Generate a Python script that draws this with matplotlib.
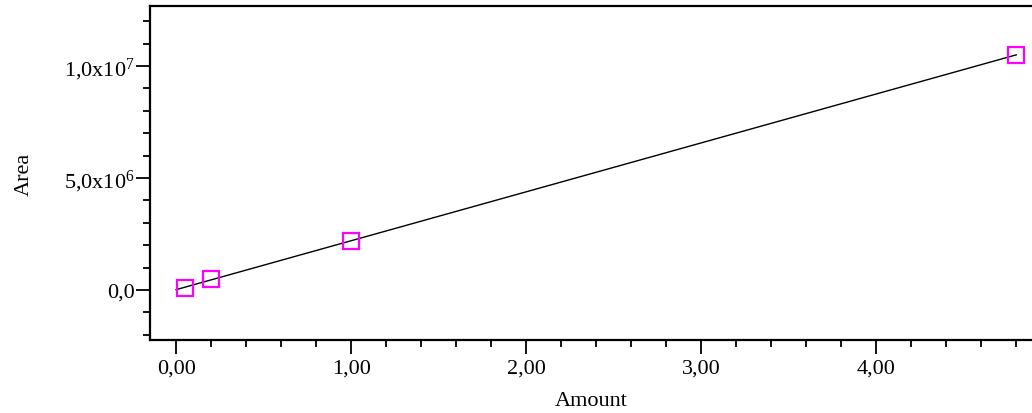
import numpy as np
import matplotlib
matplotlib.use('Agg')
import matplotlib.pyplot as plt
from matplotlib.ticker import FixedLocator, MultipleLocator, FuncFormatter

plt.rcParams['font.family'] = 'Liberation Serif'
plt.rcParams['mathtext.fontset'] = 'custom'
plt.rcParams['mathtext.rm'] = 'Liberation Serif'
plt.rcParams['mathtext.it'] = 'Liberation Serif'

# calibration points
AMOUNT = [0.05, 0.20, 1.00, 4.80]
AREA   = [1.0e5, 4.9e5, 2.19e6, 1.05e7]
X_TICKS = [0, 1, 2, 3, 4]
Y_TICKS = [0, 5e6, 1e7]
Y_LABELS = ['0,0', '5,0x10$^{6}$', '1,0x10$^{7}$']

slope, icpt = np.polyfit(AMOUNT, AREA, 1)
xfit = np.array([0.0, max(AMOUNT)])

fig = plt.figure(figsize=(10.32, 4.14), dpi=100)
ax = fig.add_axes([150/1032, 1-341/414, 1-150/1032, (341-7)/414])

ax.plot(xfit, slope*xfit + icpt, color='black', lw=1.0, zorder=2)
ax.plot(AMOUNT, AREA, ls='none', marker='s', ms=12, mfc='none',
        mec='#ff00ff', mew=1.6, zorder=3)

ax.set_xlim(-0.149, 4.89)
ax.set_ylim(-2.23e6, 1.268e7)

ax.xaxis.set_major_locator(FixedLocator(X_TICKS))
ax.xaxis.set_minor_locator(MultipleLocator(0.2))
ax.xaxis.set_major_formatter(FuncFormatter(lambda v, p: f'{v:.2f}'.replace('.', ',')))
ax.yaxis.set_major_locator(FixedLocator(Y_TICKS))
ax.yaxis.set_minor_locator(MultipleLocator(1e6))
ax.set_yticklabels(Y_LABELS)

ax.tick_params(which='major', direction='out', length=10, width=1.3,
               labelsize=16, pad=3)
ax.tick_params(axis='y', which='major', pad=1)
ax.tick_params(which='minor', direction='out', length=5, width=1.3)

for s in ['left', 'bottom', 'top']:
    ax.spines[s].set_linewidth(1.6)
ax.spines['right'].set_visible(False)

ax.set_xlabel('Amount', fontsize=16)
ax.set_ylabel('Area', fontsize=16)
ax.xaxis.set_label_coords(0.5, -0.152)
ax.yaxis.set_label_coords(-0.132, 0.5)

fig.savefig('out.png', dpi=100)
